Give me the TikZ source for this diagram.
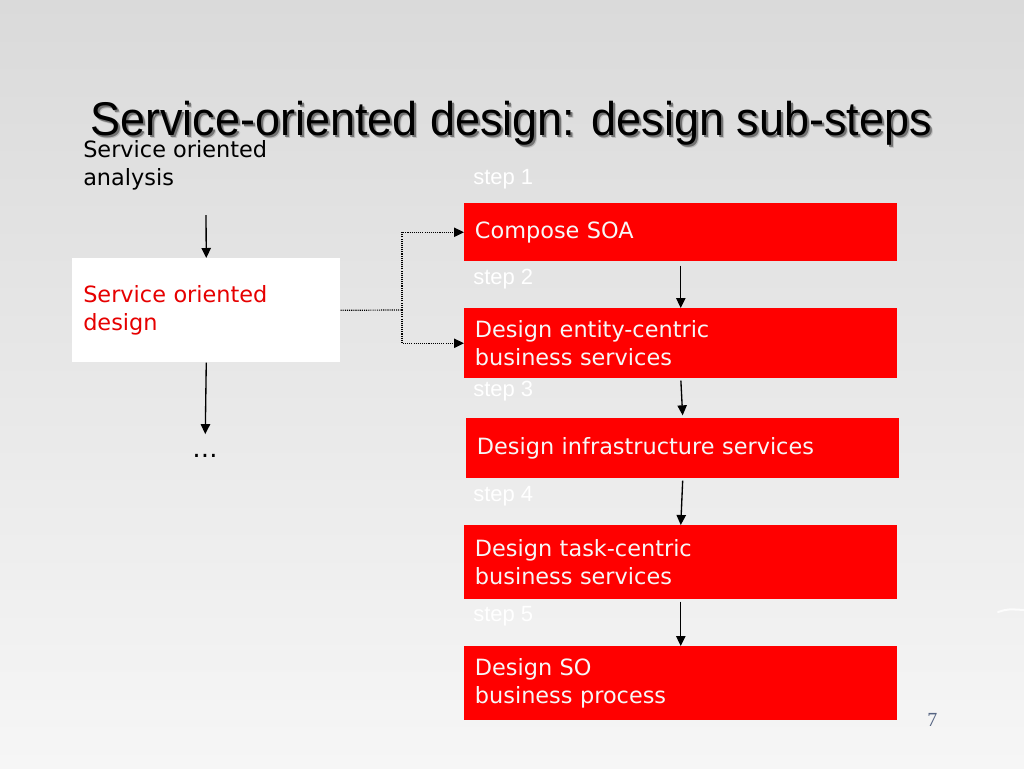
\documentclass[tikz,border=0pt]{standalone}
\usepackage{fontspec}
\setmainfont{DejaVu Sans}
\newfontfamily\arialfont{Liberation Sans}
\newfontfamily\titlefam[FakeStretch=0.95]{Liberation Sans}
\newfontfamily\pgserif{Liberation Serif}
\usetikzlibrary{arrows.meta}
\definecolor{boxred}{RGB}{255,0,0}
\definecolor{textred}{RGB}{230,0,0}
\definecolor{pagenum}{RGB}{85,100,130}
\definecolor{bgtop}{RGB}{218,218,218}
\definecolor{bgbot}{RGB}{246,246,246}
\begin{document}
\begin{tikzpicture}[x=0.75pt,y=-0.75pt,
  bodyfont/.style={font=\fontsize{16.8}{21}\selectfont},
  redbox/.style={bodyfont, fill=boxred, draw=none, anchor=north west, text=white!97!black,
     align=left, inner xsep=8pt, inner ysep=0pt, text width=308.75pt},
  whitebox/.style={bodyfont, fill=white, draw=none, anchor=north west, text=textred,
     align=left, inner xsep=8.25pt, inner ysep=0pt, text width=184.5pt, minimum height=78pt},
  steplabel/.style={font=\arialfont\fontsize{16.5}{19}\selectfont, text=white, anchor=base west, inner sep=0pt},
  plain/.style={bodyfont, anchor=base west, inner sep=0pt, align=left},
  titlefont/.style={font=\titlefam\fontsize{35.5}{40}\selectfont, anchor=base west, inner sep=0pt},
  tip/.style={-{Triangle[length=7.5pt,width=7pt]}},
  arr/.style={draw=black, line width=1pt, tip},
  dotline/.style={draw=black, line width=0.9pt, dash pattern=on 0.8pt off 0.8pt},
]
\shade[top color=bgtop, bottom color=bgbot] (0,0) rectangle (1024,768);
\useasboundingbox (0,0) rectangle (1024,768);

% title with soft shadow
\node[titlefont, text=black!25] (titleshadowb) at (93,138) {Service-oriented design: design sub-steps};
\node[titlefont, text=black!55] (titleshadow) at (92,137) {Service-oriented design: design sub-steps};
\node[titlefont, text=black] (title) at (90,135) {Service-oriented design: design sub-steps};

% left column
\node[plain, text=black, anchor=north west] (analysis) at (83,140) {Service oriented\\analysis};
\coordinate (atop) at (206,215);
\node[whitebox] (wb) at (72,258) {Service oriented\\design};
\node[font=\fontsize{19}{21}\selectfont, inner sep=0pt] (dots) at (205,456) {\ldots};
\draw[arr] (atop) -- (wb.north);
\draw[arr, shorten >=15pt] (wb.south) -- (dots.north);

% steps
\node[steplabel] (s1) at (473,184) {step 1};
\node[steplabel] (s2) at (473,284) {step 2};
\node[steplabel] (s3) at (473,396) {step 3};
\node[steplabel] (s4) at (473,501) {step 4};
\node[steplabel] (s5) at (473,621) {step 5};

\node[redbox, minimum height=43.5pt] (b1) at (464,203) {Compose SOA};
\node[redbox, minimum height=52.5pt] (b2) at (464,308) {Design entity-centric\\business services};
\node[redbox, minimum height=45pt]   (b3) at (466,418) {Design infrastructure services};
\node[redbox, minimum height=55.5pt] (b4) at (464,525) {Design task-centric\\business services};
\node[redbox, minimum height=55.5pt] (b5) at (464,646) {Design SO\\business process};

\draw[arr, shorten <=3pt] (b1.south) -- (b2.north);
\draw[arr, shorten <=1.5pt, shorten >=2pt] (b2.south) -- (b3.north);
\draw[arr, shorten <=1.5pt] (b3.south) -- (b4.north);
\draw[arr, shorten <=1.5pt] (b4.south) -- (b5.north);

% dotted connector
\coordinate (j) at (402,310);
\draw[dotline] (wb.east) -- (j);
\draw[dotline, tip] (j) |- (b1.west);
\draw[dotline, tip] (j) |- (b2.west);

% page number and decoration
\node[font=\pgserif\fontsize{15}{18}\selectfont, text=pagenum, anchor=base west, inner sep=0pt] (pg) at (927,726) {7};
\draw[white, line width=1.5pt, line cap=round, opacity=0.8] (998,612) .. controls (1008,609) .. (1024,610);
\end{tikzpicture}
\end{document}
